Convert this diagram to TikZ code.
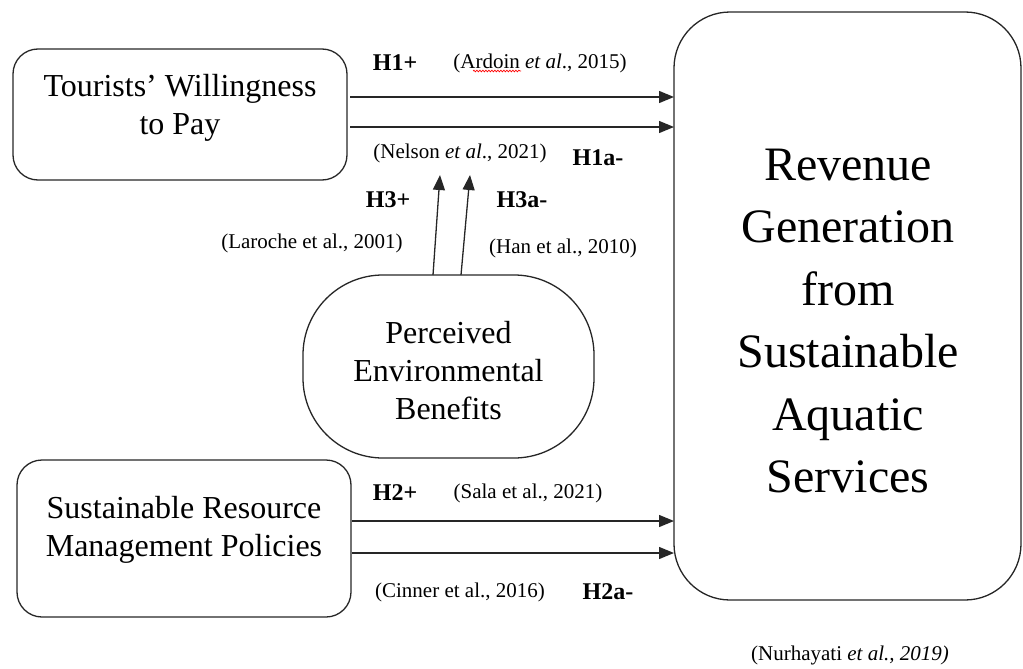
\documentclass[tikz,border=0pt]{standalone}
\usepackage{fontspec}
\setmainfont{Liberation Serif}
\usetikzlibrary{arrows.meta,calc,decorations.pathmorphing}

\begin{document}
\begin{tikzpicture}[x=1pt,y=-1pt,
  box/.style={draw=black!85, line width=1.3pt, rounded corners=#1, inner sep=0pt, outer sep=0pt},
  boxtext/.style={align=center, font=\fontsize{32}{38}\selectfont, inner sep=0pt},
  hyp/.style={font=\bfseries\fontsize{24}{28}\selectfont, inner sep=0pt},
  cite/.style={font=\fontsize{21}{24}\selectfont, inner sep=0pt},
  arr/.style={line width=1.3pt, draw=black!85, -{Triangle[length=15pt,width=12pt]}}
]
\useasboundingbox (0,0) rectangle (1023,669);

% construct boxes
\node[box=25, minimum width=334pt, minimum height=131pt] (tw) at (180,114.5) {};
\node[boxtext] (twt) at (180,108) {Tourists’ Willingness\\to Pay};

\node[box=25, minimum width=334pt, minimum height=157pt] (sp) at (184,538.5) {};
\node[boxtext] (spt) at (184,530) {Sustainable Resource\\Management Policies};

\node[box=80, minimum width=291pt, minimum height=183pt] (pe) at (448.5,366.5) {};
\node[boxtext] (pet) at (448.5,371) {Perceived\\Environmental\\Benefits};

\node[box=56, minimum width=347pt, minimum height=588pt] (rev) at (847.5,306) {};
\node[boxtext, font=\fontsize{48}{62.4}\selectfont] (revt) at (848,321)
  {Revenue\\Generation\\from\\Sustainable\\Aquatic\\Services};

% hypothesis arrows into revenue generation
\coordinate (a1) at ($(tw.east)+(3,-17.5)$);
\coordinate (a2) at ($(tw.east)+(3,12.5)$);
\coordinate (b1) at ($(sp.east)+(1,-17.5)$);
\coordinate (b2) at ($(sp.east)+(1,14.5)$);
\draw[arr] (a1) -- (rev.west |- a1);
\draw[arr] (a2) -- (rev.west |- a2);
\draw[arr] (b1) -- (rev.west |- b1);
\draw[arr] (b2) -- (rev.west |- b2);

% moderation arrows from perceived benefits
\coordinate (m1) at ($(pe.north)+(-15.5,0)$);
\coordinate (m2) at ($(pe.north)+(12.5,0)$);
\coordinate (t1) at (440,175);
\coordinate (t2) at (470,175);
\draw[arr] (m1) -- (t1);
\draw[arr] (m2) -- (t2);

% hypothesis labels and sources
\node[hyp] (h1p) at (395,63) {H1+};
\node[cite] (c1) at (540,63) {(Ardoin \textit{et al}., 2015)};
\draw[red, line width=0.7pt, decorate, decoration={snake, segment length=3pt, amplitude=0.8pt}]
  (473,71) -- (521,71);
\node[cite] (c1a) at (460,153) {(Nelson \textit{et al}., 2021)};
\node[hyp] (h1a) at (598,158) {H1a-};

\node[hyp] (h3p) at (388,200) {H3+};
\node[hyp] (h3a) at (522,200) {H3a-};
\node[cite] (c3) at (312,243) {(Laroche et al., 2001)};
\node[cite] (c3a) at (563,248) {(Han et al., 2010)};

\node[hyp] (h2p) at (395,493) {H2+};
\node[cite] (c2) at (528,493) {(Sala et al., 2021)};
\node[cite] (c2a) at (460,592) {(Cinner et al., 2016)};
\node[hyp] (h2a) at (608,592) {H2a-};

\node[cite] (cr) at (850,655) {(Nurhayati \textit{et al., 2019)}};
\end{tikzpicture}
\end{document}
